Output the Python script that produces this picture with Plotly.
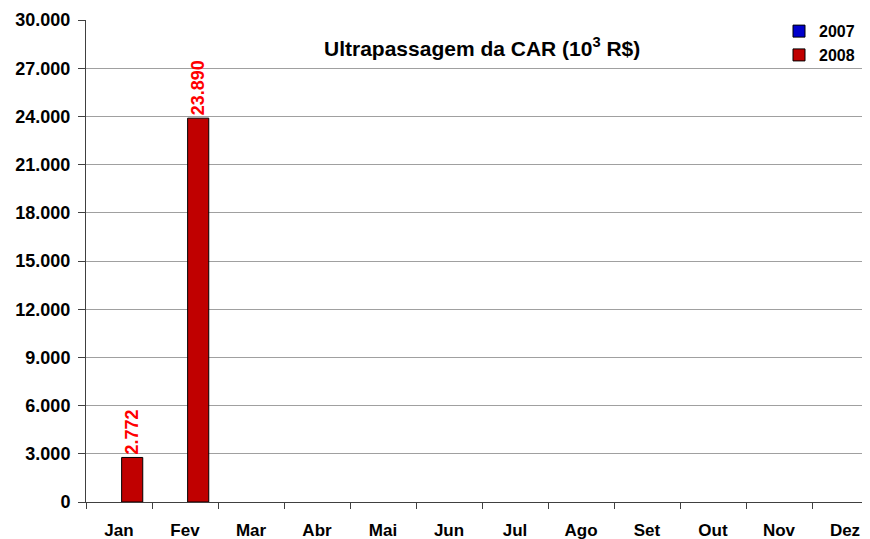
import plotly.graph_objects as go

months = ["Jan", "Fev", "Mar", "Abr", "Mai", "Jun", "Jul", "Ago", "Set", "Out", "Nov", "Dez"]
v2007 = [None] * 12
v2008 = [2772, 23890, None, None, None, None, None, None, None, None, None, None]
y_ticks = [0, 3000, 6000, 9000, 12000, 15000, 18000, 21000, 24000, 27000, 30000]

FONT = "Liberation Sans, Arial, sans-serif"

fig = go.Figure()
fig.add_trace(go.Bar(
    name="2007", x=months, y=v2007,
    marker=dict(color="#0000CC", line=dict(color="#000000", width=1)),
))
fig.add_trace(go.Bar(
    name="2008", x=months, y=v2008,
    marker=dict(color="#C00000", line=dict(color="#000000", width=1)),
    texttemplate="%{y:,d}", textposition="outside", textangle=-90,
    constraintext="none",
    textfont=dict(color="#FF0000", size=18, family=FONT, weight="bold"),
    cliponaxis=False,
))

fig.update_layout(
    width=870, height=531,
    margin=dict(l=78, r=0, t=12, b=37, autoexpand=False),
    paper_bgcolor="white", plot_bgcolor="white",
    separators=",.",
    barmode="group", bargap=0.2, bargroupgap=0.2,
    font=dict(family=FONT, size=17, color="black"),
    showlegend=True,
    legend=dict(
        x=0.875, y=1.012, xanchor="left", yanchor="top",
        font=dict(size=16, weight="bold", family=FONT), bgcolor="rgba(0,0,0,0)",
        itemwidth=30, tracegroupgap=0,
    ),
    annotations=[dict(
        text="<b>Ultrapassagem da CAR (10<sup>3</sup> R$)</b>",
        xref="paper", yref="paper", x=0.5, y=0.944,
        xanchor="center", yanchor="middle", showarrow=False,
        font=dict(size=21, color="black", family=FONT),
    )],
)
fig.update_xaxes(
    type="category", showgrid=False, automargin=False,
    showline=True, linecolor="#404040", linewidth=1,
    ticks="outside", tickson="boundaries", ticklen=6, tickcolor="#404040",
    tickfont=dict(size=17, weight="bold"), ticklabelstandoff=13,
)
fig.update_yaxes(
    range=[0, 30000], tickvals=y_ticks, tickformat=",d", automargin=False,
    showgrid=True, gridcolor="#A0A0A0", gridwidth=1,
    showline=True, linecolor="#404040", linewidth=1,
    ticks="outside", ticklen=7, tickcolor="#404040",
    tickfont=dict(size=18, weight="bold"), zeroline=False,
    ticklabelstandoff=4,
)
fig.write_html("out.html")
